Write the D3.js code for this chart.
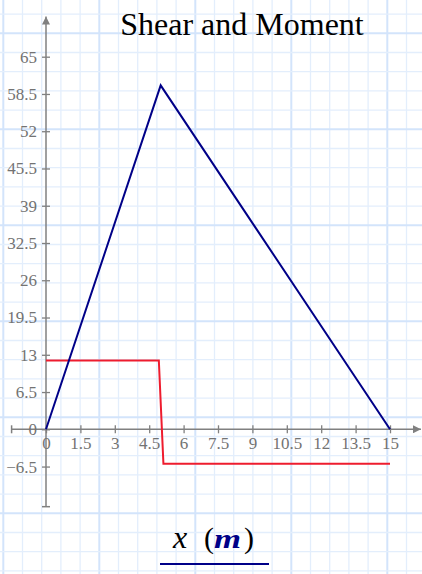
<!DOCTYPE html>
<html>
<head>
<meta charset="utf-8">
<script src="https://cdn.jsdelivr.net/npm/d3@7"></script>
<style>
  html, body { margin: 0; padding: 0; background: #fff; }
  svg { display: block; }
</style>
</head>
<body>
<div id="chart"></div>
<script>
// data
const xTicks = [0, 1.5, 3, 4.5, 6, 7.5, 9, 10.5, 12, 13.5, 15];
const yTicks = [-6.5, 0, 6.5, 13, 19.5, 26, 32.5, 39, 45.5, 52, 58.5, 65];
const momentX = [0, 5, 15];
const momentY = [0, 60, 0];
const shearX = [0, 4.92, 5.12, 15];
const shearY = [12, 12, -6, -6];

const width = 422, height = 574;
const serif = '"Liberation Serif", "Times New Roman", serif';

const svg = d3.select('#chart').append('svg')
    .attr('width', width)
    .attr('height', height);

// graph paper background
const grid = svg.append('g').attr('class', 'grid');
const step = 19.2;
d3.range(0, 23).forEach(k => {
    const gx = 3.3 + step * k;
    grid.append('line')
        .attr('x1', gx).attr('x2', gx).attr('y1', 0).attr('y2', height)
        .attr('stroke', k % 5 === 0 ? '#d3e4fb' : '#e3eefc')
        .attr('stroke-width', k % 5 === 0 ? 2 : 1.3);
});
d3.range(0, 31).forEach(k => {
    const gy = 14.1 + step * k;
    grid.append('line')
        .attr('x1', 0).attr('x2', width).attr('y1', gy).attr('y2', gy)
        .attr('stroke', k % 5 === 1 ? '#d3e4fb' : '#e3eefc')
        .attr('stroke-width', k % 5 === 1 ? 2 : 1.3);
});

// scales
const x = d3.scaleLinear().domain([0, 15]).range([46, 390]);
const y = d3.scaleLinear().domain([0, 65]).range([429.3, 56.7]);

const axisColor = '#808080';

// arrow marker
const defs = svg.append('defs');
defs.append('marker')
    .attr('id', 'arrow')
    .attr('viewBox', '0 0 10 10')
    .attr('refX', 10).attr('refY', 5)
    .attr('markerWidth', 8).attr('markerHeight', 8)
    .attr('markerUnits', 'userSpaceOnUse')
    .attr('orient', 'auto')
    .append('path')
    .attr('d', 'M0,0 L10,5 L0,10 Z')
    .attr('fill', axisColor);

// axis lines with end ticks and arrows
svg.append('line')
    .attr('x1', x(-1.5)).attr('x2', x(16.35))
    .attr('y1', y(0)).attr('y2', y(0))
    .attr('stroke', axisColor).attr('stroke-width', 1.5)
    .attr('marker-end', 'url(#arrow)');
svg.append('line')
    .attr('x1', x(-1.5)).attr('x2', x(-1.5))
    .attr('y1', y(0) - 4).attr('y2', y(0) + 4)
    .attr('stroke', axisColor).attr('stroke-width', 1.5);

svg.append('line')
    .attr('x1', x(0)).attr('x2', x(0))
    .attr('y1', y(-13.5)).attr('y2', y(72))
    .attr('stroke', axisColor).attr('stroke-width', 1.5)
    .attr('marker-end', 'url(#arrow)');
svg.append('line')
    .attr('x1', x(0) - 4).attr('x2', x(0) + 4)
    .attr('y1', y(-13.5)).attr('y2', y(-13.5))
    .attr('stroke', axisColor).attr('stroke-width', 1.5);

// x axis ticks
const xAxis = d3.axisBottom(x)
    .tickValues(xTicks)
    .tickSize(4)
    .tickPadding(4)
    .tickFormat(d3.format(''));

const xAxisG = svg.append('g')
    .attr('transform', `translate(0,${y(0)})`)
    .call(xAxis)
    .call(g => g.select('.domain').remove());
xAxisG.selectAll('.tick line')
    .attr('y1', -4).attr('y2', 4)
    .attr('stroke', axisColor).attr('stroke-width', 1.3);

// y axis ticks
const yAxis = d3.axisLeft(y)
    .tickValues(yTicks)
    .tickSize(4)
    .tickPadding(5)
    .tickFormat(d3.format(''));

const yAxisG = svg.append('g')
    .attr('transform', `translate(${x(0)},0)`)
    .call(yAxis)
    .call(g => g.select('.domain').remove());
yAxisG.selectAll('.tick line')
    .attr('x1', -4).attr('x2', 4)
    .attr('stroke', axisColor).attr('stroke-width', 1.3);

// tick label font
svg.selectAll('.tick text')
    .style('font-family', serif)
    .style('font-size', '17px')
    .style('fill', '#737373');

// lines
const line = d3.line()
    .x(d => x(d[0]))
    .y(d => y(d[1]));

svg.append('path')
    .datum(shearX.map((v, i) => [v, shearY[i]]))
    .attr('d', line)
    .attr('fill', 'none')
    .attr('stroke', '#ee1c2e')
    .attr('stroke-width', 2);

svg.append('path')
    .datum(momentX.map((v, i) => [v, momentY[i]]))
    .attr('d', line)
    .attr('fill', 'none')
    .attr('stroke', '#000088')
    .attr('stroke-width', 2);

// title
svg.append('text')
    .attr('x', 242)
    .attr('y', 35)
    .attr('text-anchor', 'middle')
    .style('font-family', serif)
    .style('font-size', '32px')
    .style('fill', '#000')
    .text('Shear and Moment');

// x label
svg.append('text')
    .attr('x', 173).attr('y', 548)
    .style('font-family', serif).style('font-size', '32px').style('font-style', 'italic')
    .text('x');
svg.append('text')
    .attr('x', 204).attr('y', 548)
    .style('font-family', serif).style('font-size', '30px')
    .text('(');
svg.append('text')
    .attr('x', 214).attr('y', 548)
    .style('font-family', serif).style('font-size', '28px')
    .style('font-style', 'italic').style('font-weight', 'bold')
    .style('fill', '#000088')
    .attr('textLength', 27)
    .attr('lengthAdjust', 'spacingAndGlyphs')
    .text('m');
svg.append('text')
    .attr('x', 244).attr('y', 548)
    .style('font-family', serif).style('font-size', '30px')
    .text(')');

svg.append('line')
    .attr('x1', 160).attr('x2', 269)
    .attr('y1', 564).attr('y2', 564)
    .attr('stroke', '#000088')
    .attr('stroke-width', 2);
</script>
</body>
</html>
